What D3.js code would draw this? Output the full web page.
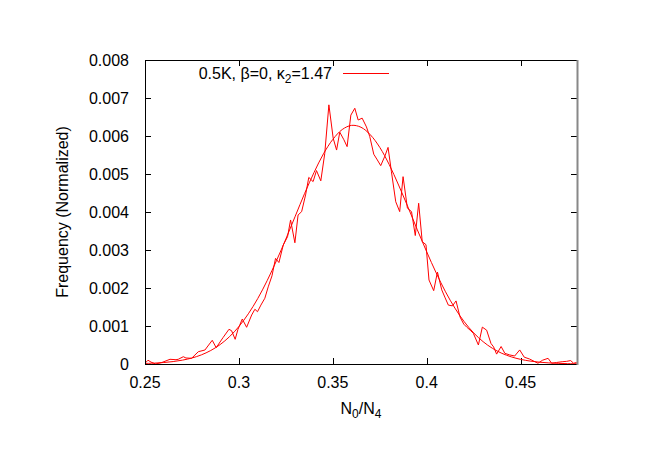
<!DOCTYPE html>
<html>
<head>
<meta charset="utf-8">
<script src="https://cdn.jsdelivr.net/npm/d3@7"></script>
<style>
  body { margin: 0; background: #fff; }
  svg { display: block; font-family: "Liberation Sans", Arial, sans-serif; }
  text { fill: #000; }
</style>
</head>
<body>
<div id="chart"></div>
<script>
// --- Data ---
const histX = [0.2500, 0.2516, 0.2532, 0.2557, 0.2590, 0.2633, 0.2665, 0.2677, 0.2704, 0.2718,
  0.2748, 0.2766, 0.2784, 0.2819, 0.2835, 0.2858, 0.2879, 0.2915, 0.2947, 0.2961,
  0.2980, 0.2995, 0.3018, 0.3041, 0.3068, 0.3085, 0.3099, 0.3117, 0.3138, 0.3156,
  0.3176, 0.3195, 0.3213, 0.3236, 0.3259, 0.3275, 0.3298, 0.3315, 0.3334, 0.3355,
  0.3372, 0.3395, 0.3413, 0.3436, 0.3457, 0.3479, 0.3502, 0.3520, 0.3537, 0.3559,
  0.3576, 0.3596, 0.3617, 0.3635, 0.3656, 0.3679, 0.3697, 0.3718, 0.3737, 0.3755,
  0.3777, 0.3794, 0.3812, 0.3835, 0.3856, 0.3874, 0.3897, 0.3919, 0.3939, 0.3957,
  0.3976, 0.3996, 0.4012, 0.4037, 0.4057, 0.4080, 0.4098, 0.4115, 0.4137, 0.4156,
  0.4177, 0.4197, 0.4213, 0.4231, 0.4248, 0.4275, 0.4296, 0.4319, 0.4342, 0.4356,
  0.4372, 0.4396, 0.4416, 0.4441, 0.4468, 0.4495, 0.4519, 0.4548, 0.4592, 0.4617,
  0.4646, 0.4665, 0.4691, 0.4721, 0.4745, 0.4766, 0.4782, 0.4798];
const histY = [0.00002, 0.00010, 0.00005, 0.00000, 0.00004, 0.000124, 0.000113, 0.000124, 0.000192, 0.000158,
  0.00015, 0.000237, 0.000324, 0.000368, 0.000474, 0.000624, 0.000429, 0.000692, 0.000913, 0.000876,
  0.00065, 0.000913, 0.001184, 0.000966, 0.00129, 0.00144, 0.001376, 0.00155, 0.00173, 0.00203,
  0.00232, 0.00278, 0.00267, 0.00313, 0.00335, 0.00379, 0.00319, 0.00392, 0.00401, 0.00445,
  0.00491, 0.00480, 0.00509, 0.00482, 0.00554, 0.00682, 0.00594, 0.00563, 0.00610, 0.00590,
  0.00572, 0.00655, 0.00673, 0.00642, 0.00647, 0.00624, 0.00598, 0.00552, 0.00537, 0.00522,
  0.00547, 0.00570, 0.00506, 0.00427, 0.00401, 0.00493, 0.00410, 0.00401, 0.00338, 0.00423,
  0.00322, 0.00314, 0.00221, 0.00193, 0.00242, 0.00195, 0.00174, 0.00155, 0.00153, 0.00166,
  0.00124, 0.00105, 0.00097, 0.00089, 0.00081, 0.00050, 0.00097, 0.00089, 0.00054, 0.00045,
  0.00026, 0.00046, 0.00028, 0.00024, 0.00021, 0.00037, 0.00018, 0.00013, 0.00002, 0.00010,
  0.00015, 0.00002, 0.00004, 0.00006, 0.00007, 0.00009, 0.00002, 0.00004];

const fitX = [0.250, 0.255, 0.260, 0.265, 0.270, 0.275, 0.280, 0.285, 0.290, 0.295,
  0.300, 0.305, 0.310, 0.315, 0.320, 0.325, 0.330, 0.335, 0.340, 0.345,
  0.350, 0.355, 0.360, 0.365, 0.370, 0.375, 0.380, 0.385, 0.390, 0.395,
  0.400, 0.405, 0.410, 0.415, 0.420, 0.425, 0.430, 0.435, 0.440, 0.445,
  0.450, 0.455, 0.460, 0.465, 0.470, 0.475, 0.480];
const fitY = [0.000014, 0.000023, 0.000039, 0.000064, 0.000102, 0.000158, 0.00024, 0.000355, 0.000511, 0.000719,
  0.000986, 0.00132, 0.00172, 0.00219, 0.00272, 0.00329, 0.00389, 0.00449, 0.00504, 0.00553,
  0.00591, 0.00617, 0.00628, 0.00623, 0.00603, 0.00570, 0.00525, 0.00471, 0.00413, 0.00353,
  0.00295, 0.00240, 0.00190, 0.00147, 0.00111, 0.000818, 0.000588, 0.000412, 0.000281, 0.000188,
  0.000122, 0.0000775, 0.0000479, 0.0000289, 0.000017, 0.0000098, 0.0000055];

const xTicks = [0.25, 0.3, 0.35, 0.4, 0.45];
const yTicks = [0, 0.001, 0.002, 0.003, 0.004, 0.005, 0.006, 0.007, 0.008];

// --- Layout ---
const W = 664, H = 470;
const m = { left: 145, right: 577, top: 60, bottom: 364 };
const tickLen = 6;
const fs = 16;

const svg = d3.select('#chart').append('svg').attr('width', W).attr('height', H);

const x = d3.scaleLinear().domain([0.25, 0.48]).range([m.left, m.right]);
const y = d3.scaleLinear().domain([0, 0.008]).range([m.bottom, m.top]);

svg.append('clipPath').attr('id', 'clip')
  .append('rect').attr('x', m.left).attr('y', m.top)
  .attr('width', m.right - m.left).attr('height', m.bottom - m.top);

// ticks (mirrored on all sides)
const tg = svg.append('g').attr('stroke', '#000').attr('stroke-width', 1);
xTicks.forEach(t => {
  const px = Math.round(x(t)) + 0.5;
  tg.append('line').attr('x1', px).attr('x2', px).attr('y1', m.bottom).attr('y2', m.bottom - tickLen);
  tg.append('line').attr('x1', px).attr('x2', px).attr('y1', m.top).attr('y2', m.top + tickLen);
});
yTicks.forEach(t => {
  const py = Math.round(y(t)) + 0.5;
  tg.append('line').attr('x1', m.left).attr('x2', m.left + tickLen).attr('y1', py).attr('y2', py);
  tg.append('line').attr('x1', m.right).attr('x2', m.right - tickLen).attr('y1', py).attr('y2', py);
});

// tick labels
svg.append('g').selectAll('text').data(xTicks).join('text')
  .attr('x', d => x(d)).attr('y', 388)
  .attr('text-anchor', 'middle').attr('font-size', fs)
  .text(d => d);
svg.append('g').selectAll('text').data(yTicks).join('text')
  .attr('x', 129).attr('y', d => y(d) + 6)
  .attr('text-anchor', 'end').attr('font-size', fs)
  .text(d => d);

// series
const plot = svg.append('g').attr('clip-path', 'url(#clip)');
const line = d3.line().x(d => x(d[0])).y(d => y(d[1]));
plot.append('path')
  .datum(d3.zip(histX, histY))
  .attr('d', line).attr('fill', 'none').attr('stroke', '#ff0000').attr('stroke-width', 1);
plot.append('path')
  .datum(d3.zip(fitX, fitY))
  .attr('d', line.curve(d3.curveCatmullRom)).attr('fill', 'none').attr('stroke', '#ff0000').attr('stroke-width', 1);

// frame
svg.append('path')
  .attr('d', `M${m.left + 0.5},${m.top + 0.5}H${m.right}M${m.left + 0.5},${m.top + 0.5}V${m.bottom + 0.5}H${m.right}`)
  .attr('fill', 'none').attr('stroke', '#000').attr('stroke-width', 1);
svg.append('line')
  .attr('x1', m.right + 0.5).attr('x2', m.right + 0.5).attr('y1', m.top).attr('y2', m.bottom + 1)
  .attr('stroke', '#888').attr('stroke-width', 2);

// legend
const leg = svg.append('text').attr('x', 332).attr('y', 79).attr('text-anchor', 'end').attr('font-size', fs);
leg.append('tspan').text('0.5K, β=0, κ');
leg.append('tspan').attr('font-size', 12).attr('dy', 4).text('2');
leg.append('tspan').attr('dy', -4).text('=1.47');
svg.append('line').attr('x1', 343).attr('x2', 389).attr('y1', 73.5).attr('y2', 73.5)
  .attr('stroke', '#ff0000').attr('stroke-width', 1);

// axis titles
svg.append('text')
  .attr('transform', `translate(68,${(m.top + m.bottom) / 2}) rotate(-90)`)
  .attr('text-anchor', 'middle').attr('font-size', fs)
  .text('Frequency (Normalized)');
const xl = svg.append('text').attr('x', 361).attr('y', 414).attr('text-anchor', 'middle').attr('font-size', fs);
xl.append('tspan').text('N');
xl.append('tspan').attr('font-size', 12).attr('dy', 4).text('0');
xl.append('tspan').attr('dy', -4).text('/N');
xl.append('tspan').attr('font-size', 12).attr('dy', 4).text('4');
</script>
</body>
</html>
